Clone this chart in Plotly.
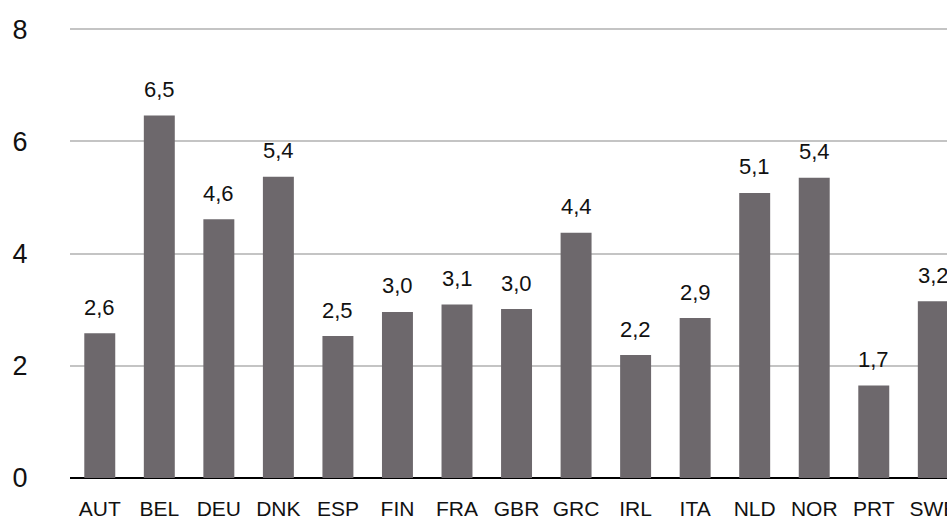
import plotly.graph_objects as go

categories = ["AUT", "BEL", "DEU", "DNK", "ESP", "FIN", "FRA", "GBR", "GRC",
              "IRL", "ITA", "NLD", "NOR", "PRT", "SWE"]
values = [2.58, 6.46, 4.61, 5.37, 2.53, 2.96, 3.09, 3.01, 4.37,
          2.19, 2.85, 5.08, 5.35, 1.65, 3.15]
labels = ["2,6", "6,5", "4,6", "5,4", "2,5", "3,0", "3,1", "3,0", "4,4",
          "2,2", "2,9", "5,1", "5,4", "1,7", "3,2"]
y_ticks = [0, 2, 4, 6, 8]

FONT = "Liberation Sans, Arial, Helvetica, sans-serif"

fig = go.Figure()
fig.add_trace(go.Bar(
    x=categories, y=values,
    marker=dict(color="#6d686c", line=dict(width=0)),
    width=0.52,
    hoverinfo="skip",
))

for c, v, t in zip(categories, values, labels):
    fig.add_annotation(x=c, y=v, text=t, showarrow=False,
                       yanchor="middle", yshift=26,
                       font=dict(family=FONT, size=22, color="#111111"))

fig.update_layout(
    width=947, height=519,
    margin=dict(l=70, r=0, t=28, b=41),
    paper_bgcolor="white", plot_bgcolor="white",
    showlegend=False,
    xaxis=dict(
        type="category", range=[-0.5, 14.23], automargin=False,
        showgrid=False, showline=False, zeroline=False,
        ticks="outside", ticklen=12, tickcolor="rgba(0,0,0,0)",
        tickfont=dict(family=FONT, size=21, color="#111111"),
        fixedrange=True,
    ),
    yaxis=dict(
        range=[0, 8.02], automargin=False,
        tickvals=y_ticks, ticktext=[str(v) for v in y_ticks],
        showgrid=True, gridcolor="#c4c4c4", gridwidth=2,
        zeroline=True, zerolinecolor="#000000", zerolinewidth=2.5,
        showline=False,
        ticks="outside", ticklen=36, tickcolor="rgba(0,0,0,0)",
        tickfont=dict(family=FONT, size=27, color="#111111"),
        fixedrange=True,
    ),
)

fig.write_html(
    "out.html",
    config={"displayModeBar": False, "staticPlot": True},
    post_script="document.body.style.margin='0';document.body.style.overflow='hidden';",
)
